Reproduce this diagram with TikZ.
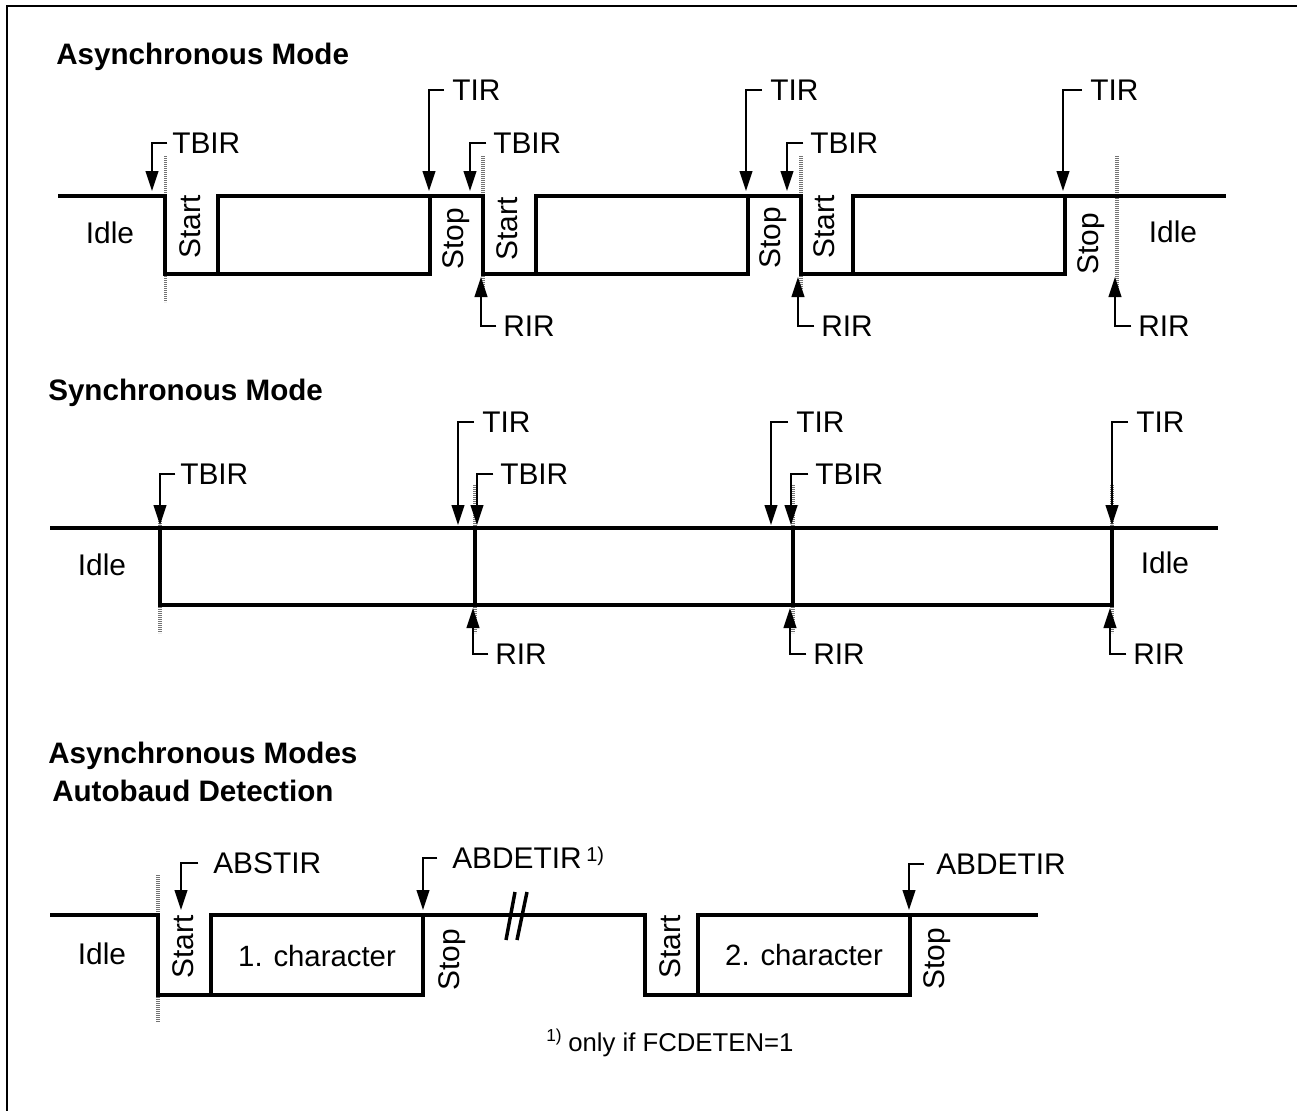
\documentclass[tikz,border=0pt]{standalone}
\usepackage{fontspec}
\setmainfont{Liberation Sans}
\usetikzlibrary{arrows.meta}
\tikzset{
  wave/.style={line width=3pt,line cap=rect,line join=miter},
  leader/.style={line width=1.5pt,-{Triangle[length=15pt,width=9.5pt]}},
  guide/.style={line width=2.4pt,draw=black!55,dash pattern=on 1.1pt off 0.4pt},
  lab/.style={inner sep=0pt,text height=16.1pt,text depth=0pt,font=\fontsize{22.4}{22.4}\selectfont},
  head/.style={lab,anchor=west,font=\fontsize{22.2}{22.2}\selectfont\bfseries},
  tag/.style={lab,anchor=west},
  vlab/.style={lab,rotate=90},
  boxlab/.style={lab,font=\fontsize{22}{22}\selectfont},
}
\newcommand{\lead}[7]{% name, tipx, tipy, labelx, labely, text, gap in pt
  \node[tag] (#1) at (#4,#5) {#6};
  \coordinate (#1tip) at (#2,#3);
  \draw[leader] ([xshift=-#7pt]#1.west) -| (#1tip);
}
\begin{document}
\begin{tikzpicture}[x=0.75pt,y=-0.75pt]
\useasboundingbox (0,0) rectangle (1297,1111);
\fill[white] (0,0) rectangle (1297,1111);
\draw[line width=1.5pt] (7,1111) -- (7,6) -- (1297,6);

% headings
\node[head] (h1) at (56,54) {Asynchronous Mode};
\node[head] (h2) at (48,390) {Synchronous Mode};
\node[head] (h3) at (48,753) {Asynchronous Modes};
\node[head] (h4) at (52,791) {Autobaud Detection};

% ---- asynchronous
\draw[guide] (165.5,156) -- (165.5,196) (165.5,274) -- (165.5,302);
\draw[guide] (483,156) -- (483,196) (483,274) -- (483,290);
\draw[guide] (801,156) -- (801,196) (801,274) -- (801,290);
\draw[guide] (1117,156) -- (1117,290);
\draw[wave] (60,196) -- (165,196) -- (165,274) -- (218,274) -- (218,196) -- (483,196) -- (483,274) -- (536,274) -- (536,196) -- (801,196) -- (801,274) -- (853,274) -- (853,196) -- (1224,196);
\draw[wave] (218,274) -- (430,274) -- (430,196);
\draw[wave] (536,274) -- (748,274) -- (748,196);
\draw[wave] (853,274) -- (1065,274) -- (1065,196);

\lead{a1}{152}{191}{172}{143}{TBIR}{3.5}
\lead{a2}{429}{191}{452}{90}{TIR}{6}
\lead{a3}{470}{191}{493}{143}{TBIR}{5}
\lead{a4}{746}{191}{770}{90}{TIR}{6}
\lead{a5}{787}{191}{810}{143}{TBIR}{5}
\lead{a6}{1063}{191}{1090}{90}{TIR}{6}
\lead{a7}{481}{277}{503}{326}{RIR}{5}
\lead{a8}{798}{277}{821}{326}{RIR}{5}
\lead{a9}{1115}{277}{1138}{326}{RIR}{5}

\node[lab] (ai1) at (110,233) {Idle};
\node[lab] (ai2) at (1173,232) {Idle};
\node[vlab] (as1) at (190,227) {Start};
\node[vlab] (as2) at (507,229) {Start};
\node[vlab] (as3) at (824,227) {Start};
\node[vlab] (ap1) at (453,239) {Stop};
\node[vlab] (ap2) at (770,238) {Stop};
\node[vlab] (ap3) at (1088,244) {Stop};

% ---- synchronous
\draw[guide] (160,505) -- (160,528) (160,605) -- (160,633);
\draw[guide] (475,485) -- (475,528) (475,605) -- (475,633);
\draw[guide] (793,485) -- (793,528) (793,605) -- (793,633);
\draw[guide] (1112,485) -- (1112,528) (1112,605) -- (1112,633);
\draw[wave] (52,528) -- (1216,528);
\draw[wave] (160,528) -- (160,605) -- (1112,605) -- (1112,528);
\draw[wave] (475,528) -- (475,605) (793,528) -- (793,605);

\lead{s1}{160}{525}{180}{474}{TBIR}{3.5}
\lead{s2}{458}{525}{482}{422}{TIR}{6}
\lead{s3}{477}{525}{500}{474}{TBIR}{5}
\lead{s4}{771}{525}{796}{422}{TIR}{6}
\lead{s5}{791}{525}{815}{474}{TBIR}{5}
\lead{s6}{1112}{525}{1136}{422}{TIR}{6}
\lead{s7}{473}{608}{495}{654}{RIR}{5}
\lead{s8}{790}{608}{813}{654}{RIR}{5}
\lead{s9}{1110}{608}{1133}{654}{RIR}{5}

\node[lab] (si1) at (102,565) {Idle};
\node[lab] (si2) at (1165,563) {Idle};

% ---- autobaud
\draw[guide] (158,875) -- (158,915) (158,995) -- (158,1022);
\draw[wave] (52,915) -- (158,915) -- (158,995) -- (211,995) -- (211,915) -- (645,915) -- (645,995) -- (698,995) -- (698,915) -- (1036,915);
\draw[wave] (211,995) -- (423,995) -- (423,915);
\draw[wave] (698,995) -- (910,995) -- (910,915);

\coordinate (brkA) at (506,940);
\coordinate (brkB) at (515,892);
\coordinate (brkC) at (517,940);
\coordinate (brkD) at (527,892);
\draw[line width=2.6pt] (brkA) -- (brkB);
\draw[line width=2.6pt] (brkC) -- (brkD);

\lead{b1}{181}{910}{213}{863}{ABSTIR}{11}
\lead{b2}{423}{910}{452}{858}{ABDETIR}{11}
\lead{b3}{909}{910}{936}{864}{ABDETIR}{9}
\node[tag,font=\fontsize{15}{15}\selectfont] (bs) at (586,851) {1)};
\node[lab] (bi) at (102,954) {Idle};
\node[vlab] (bst1) at (183,947) {Start};
\node[vlab] (bst2) at (670,947) {Start};
\node[vlab] (bsp1) at (449,960) {Stop};
\node[vlab] (bsp2) at (934,959) {Stop};
\node[boxlab] (bc1) at (317,956) {1. character};
\node[boxlab] (bc2) at (804,955) {2. character};

\node[tag,font=\fontsize{19.3}{19.3}\selectfont,text height=13.8pt] (fn) at (568,1042) {only if FCDETEN=1};
\node[tag,font=\fontsize{13}{13}\selectfont] (fs) at (546,1031) {1)};
\end{tikzpicture}
\end{document}
